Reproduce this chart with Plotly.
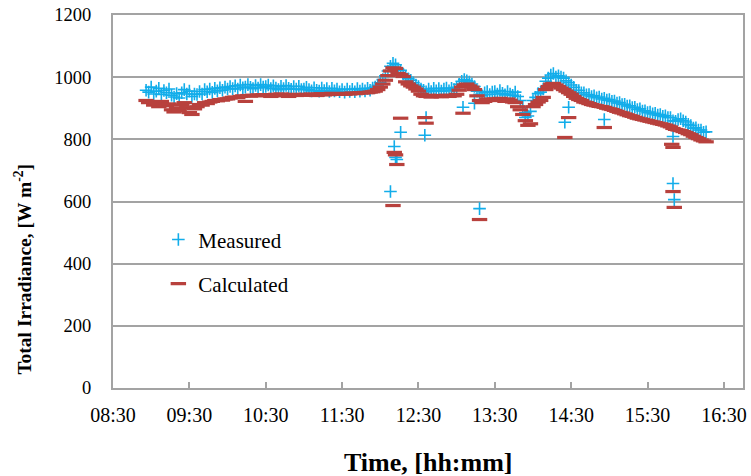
import plotly.graph_objects as go
import pandas as pd

DAY = "2013-06-01 "

# Regular 2-minute samples starting 08:56
start_time = "08:56"
measured = [
    958, 952, 968, 946, 955, 964, 944, 957, 950, 962,
    942, 936, 947, 933, 950, 960, 946, 955, 938, 946,
    944, 954, 946, 960, 953, 962, 951, 964, 956, 966, 958, 968,
    962, 970, 963, 972, 962, 975, 966, 968, 976, 967, 963, 973, 965, 976, 968,
    970, 975, 963, 972, 965, 960, 971, 963, 973, 964, 961, 970, 962, 971, 960,
    962, 967, 960, 956, 966, 958, 955, 965, 957, 963, 954, 964, 956, 962, 953,
    960, 952, 962, 954, 961, 953, 963, 955, 962, 956, 964, 958, 965, 968, 974,
    982, 992, 1004, 1020, 1035, 1045, 1040, 1025, 1022, 1010, 1000, 995, 990, 982, 975,
    970, 962, 958, 953, 962, 954, 964, 956, 963, 955, 962, 965, 956, 964, 960,
    967, 977, 987, 992, 988, 984, 978, 970, 955, 945, 940, 950, 954, 944, 952,
    954, 946, 957, 948, 943, 954, 946, 942, 952, 938, 925, 905, 885, 875, 890,
    925, 935, 947, 952, 962, 987, 997, 1007, 1012, 1000, 1004, 1000, 997, 988, 982,
    975, 967, 958, 957, 950, 950, 943, 944, 938, 940, 934, 936, 930, 932, 926,
    928, 922, 923, 917, 918, 912, 913, 907, 908, 902, 903, 896, 898, 891, 892,
    886, 888, 882, 884, 878, 880, 874, 876, 870, 870, 860, 858, 864, 866, 860,
    856, 848, 844, 836, 837, 830, 830, 823, 824,
]
calculated = [
    925, 918, 921, 910, 915, 905, 922, 912, 908, 914,
    895, 888, 900, 893, 910, 918, 902, 886, 880, 898,
    905, 912, 910, 918, 915, 920, 922, 925, 924, 928, 926, 930,
    930, 933, 935, 936, 934, 938, 940, 922, 941, 939, 942, 940, 943, 941, 944,
    942, 944, 938, 943, 945, 940, 946, 942, 944, 938, 943, 945, 941, 944, 942,
    943, 945, 942, 946, 944, 941, 945, 947, 943, 946, 944, 948, 945, 947, 946,
    947, 945, 948, 946, 949, 947, 948, 950, 949, 951, 950, 952, 953, 955, 960,
    968, 978, 990, 1005, 1020, 1030, 1028, 1012, 1008, 1002, 985, 978, 972, 968, 962,
    955, 945, 940, 938, 942, 936, 940, 938, 941, 937, 940, 942, 938, 941, 940,
    945, 958, 968, 975, 978, 972, 968, 960, 940, 925, 918, 922, 930, 925, 928,
    930, 925, 932, 928, 922, 930, 926, 920, 918, 905, 895, 880, 860, 845, 850,
    905, 912, 920, 925, 935, 960, 970, 978, 980, 975, 970, 965, 960, 955, 950,
    945, 938, 932, 928, 925, 920, 918, 915, 912, 910, 908, 906, 905, 903, 900,
    898, 896, 893, 890, 887, 885, 882, 879, 876, 874, 871, 868, 866, 864, 862,
    860, 858, 856, 854, 852, 850, 848, 846, 843, 840, 835, 832, 830, 828, 825,
    822, 818, 815, 810, 806, 802, 798, 795, 792,
]

# Isolated readings (cloud transients)
measured_out_t = ["12:08", "12:11", "12:12", "12:13", "12:16", "12:35", "12:36",
                  "13:05", "13:14", "13:18", "13:54", "14:25", "14:28", "14:56",
                  "15:50", "15:50", "15:51"]
measured_out_v = [632, 777, 742, 735, 823, 813, 870,
                  903, 916, 577, 870, 855, 903, 864,
                  809, 658, 606]
calculated_out_t = ["12:10", "12:11", "12:12", "12:13", "12:16", "12:35", "12:36",
                    "13:05", "13:18", "14:25", "14:28", "14:56",
                    "15:49", "15:50", "15:50", "15:51"]
calculated_out_v = [587, 758, 750, 719, 868, 870, 852,
                    884, 542, 806, 870, 838,
                    784, 774, 632, 581]

y_ticks = [0, 200, 400, 600, 800, 1000, 1200]
x_range = ["08:30", "16:45"]

base_times = pd.date_range(DAY + start_time, periods=len(measured), freq="2min")
m_x = list(base_times) + [pd.Timestamp(DAY + t) for t in measured_out_t]
m_y = measured + measured_out_v
c_x = list(base_times) + [pd.Timestamp(DAY + t) for t in calculated_out_t]
c_y = calculated + calculated_out_v

FONT = "Liberation Serif"
GRID = "#A3A3A3"

fig = go.Figure()
fig.add_trace(go.Scatter(
    x=m_x, y=m_y, mode="markers", name="Measured",
    marker=dict(symbol="cross-thin", size=9, line=dict(color="#12ADEA", width=1.6), color="#12ADEA"),
    legend="legend", showlegend=True,
))
fig.add_trace(go.Scatter(
    x=c_x, y=c_y, mode="markers", name="Calculated",
    marker=dict(symbol="line-ew", size=11, line=dict(color="#B8413D", width=3.2), color="#B8413D"),
    legend="legend2", showlegend=True,
))

fig.update_layout(
    width=751, height=476,
    margin=dict(l=113, r=4, t=15, b=88),
    paper_bgcolor="white", plot_bgcolor="white",
    font=dict(family=FONT, size=18, color="black"),
    showlegend=True,
    legend=dict(x=0.072, y=0.397, xanchor="left", yanchor="middle",
                font=dict(size=21, family=FONT, color="black"), bgcolor="rgba(0,0,0,0)"),
    legend2=dict(x=0.072, y=0.279, xanchor="left", yanchor="middle",
                 font=dict(size=21, family=FONT, color="black"), bgcolor="rgba(0,0,0,0)"),
    annotations=[
        dict(text="<b>Total Irradiance, [W m<sup>-2</sup>]</b>", textangle=-90,
             xref="paper", yref="paper", x=-0.1435, y=0.319,
             xanchor="center", yanchor="middle", showarrow=False,
             font=dict(size=19.5, family=FONT, color="black")),
        dict(text="<b>Time, [hh:mm]</b>",
             xref="paper", yref="paper", x=0.5, y=-0.201,
             xanchor="center", yanchor="middle", showarrow=False,
             font=dict(size=26, family=FONT, color="black")),
    ],
)
fig.update_xaxes(
    type="date",
    range=[DAY + x_range[0], DAY + x_range[1]],
    tick0=DAY + "08:30", dtick=3600000, tickformat="%H:%M",
    ticks="inside", ticklen=6, tickcolor=GRID, tickwidth=1.5,
    showline=True, linecolor=GRID, linewidth=2, mirror=True,
    showgrid=False, zeroline=False,
    ticklabelstandoff=8,
    tickfont=dict(size=20, family=FONT, color="black"),
)
fig.update_yaxes(
    range=[0, 1200], tickvals=y_ticks,
    showline=True, linecolor=GRID, linewidth=2, mirror=True,
    showgrid=True, gridcolor=GRID, gridwidth=1.5,
    zeroline=False, ticks="",
    ticklabelstandoff=16,
    tickfont=dict(size=18.5, family=FONT, color="black"),
)

fig.write_html("out.html")
